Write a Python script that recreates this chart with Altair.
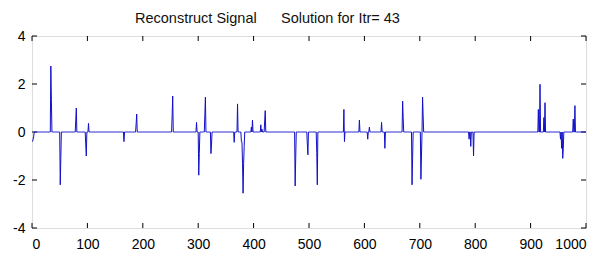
import altair as alt
import pandas as pd

n_samples = 1000
spike_index = [1, 2, 3,
               34, 35, 51, 52, 79, 80, 97, 98, 102, 166, 188, 189,
               253, 254, 297, 301, 302, 312, 313, 323, 324, 365, 371,
               378, 379, 380, 381, 382, 383, 396, 398, 413, 415, 420, 421,
               475, 476, 497, 498, 514, 515, 563, 564, 591, 606, 609,
               631, 637, 669, 670, 686, 687, 702, 703, 705, 706,
               789, 792, 797, 914, 917, 924, 926, 954, 956, 958, 959,
               977, 980]
spike_value = [-0.4, -0.3, -0.2,
               2.75, 1.35, -2.2, -1.1, 0.5, 1.0, -0.5, -1.0, 0.36, -0.4, 0.35, 0.75,
               0.72, 1.5, 0.4, -1.8, -0.9, 0.72, 1.45, -0.9, -0.55, -0.43, 1.17,
               -0.4, -0.4, -1.3, -2.55, -1.3, -0.6, 0.2, 0.5, 0.3, 0.12, 0.46, 0.89,
               -2.25, -1.1, -0.5, -0.95, -0.85, -2.2, 0.94, -0.4, 0.5, -0.3, 0.2,
               0.4, -0.68, 1.29, 0.6, -2.2, -1.1, -1.97, -1.0, 1.45, 0.72,
               -0.3, -0.6, -1.0, 0.94, 1.99, 0.6, 1.22, -0.3, -0.68, -1.1, -0.7,
               0.54, 1.1]
x_ticks = [0, 100, 200, 300, 400, 500, 600, 700, 800, 900, 1000]
y_ticks = [-4, -2, 0, 2, 4]
title_parts = ["Reconstruct Signal", "Solution for Itr= 43"]

values = [0.0] * n_samples
for i, v in zip(spike_index, spike_value):
    values[i - 1] = v
df = pd.DataFrame({"n": list(range(1, n_samples + 1)), "value": values})
xt = pd.DataFrame({"t": x_ticks})
yt = pd.DataFrame({"t": y_ticks})

W, H = 554, 192
FONT = "Liberation Sans, Arial, sans-serif"
xscale = alt.Scale(domain=[0, 1000], nice=False, zero=False)
yscale = alt.Scale(domain=[-4, 4], nice=False, zero=False)

line = alt.Chart(df).mark_line(color="#1010c8", strokeWidth=1).encode(
    x=alt.X("n:Q", scale=xscale,
            axis=alt.Axis(values=x_ticks, title=None, grid=False, ticks=False,
                          domain=False, labelFontSize=14, labelFont=FONT,
                          labelColor="black", labelPadding=9,
                          labelExpr="'' + datum.value")),
    y=alt.Y("value:Q", scale=yscale,
            axis=alt.Axis(values=y_ticks, title=None, grid=False, ticks=False,
                          domain=False, labelFontSize=14, labelFont=FONT,
                          labelColor="black", labelPadding=7,
                          labelExpr="'' + datum.value")),
)

tick_color = "black"
xb = alt.Chart(xt).mark_rule(color=tick_color, strokeWidth=1).encode(
    x=alt.X("t:Q", scale=xscale), y=alt.value(H), y2=alt.value(H - 5))
xtop = alt.Chart(xt).mark_rule(color=tick_color, strokeWidth=1).encode(
    x=alt.X("t:Q", scale=xscale), y=alt.value(0), y2=alt.value(5))
yl = alt.Chart(yt).mark_rule(color=tick_color, strokeWidth=1).encode(
    y=alt.Y("t:Q", scale=yscale), x=alt.value(0), x2=alt.value(5))
yr = alt.Chart(yt).mark_rule(color=tick_color, strokeWidth=1).encode(
    y=alt.Y("t:Q", scale=yscale), x=alt.value(W), x2=alt.value(W - 5))

t1 = alt.Chart(pd.DataFrame({"s": [title_parts[0]]})).mark_text(
    align="left", baseline="alphabetic", fontSize=14.5, font=FONT, color="#111"
).encode(x=alt.value(103), y=alt.value(-13), text="s:N")
t2 = alt.Chart(pd.DataFrame({"s": [title_parts[1]]})).mark_text(
    align="left", baseline="alphabetic", fontSize=14.5, font=FONT, color="#111"
).encode(x=alt.value(249), y=alt.value(-13), text="s:N")

chart = alt.layer(xb, xtop, yl, yr, line, t1, t2).properties(
    width=W, height=H,
    autosize=alt.AutoSizeParams(type="none"),
    padding={"left": 24, "top": 28, "right": 9, "bottom": 26},
).configure_view(stroke="black", strokeWidth=1).configure(background="white")

chart.save("out.html", embed_options={"renderer": "svg", "actions": False})
